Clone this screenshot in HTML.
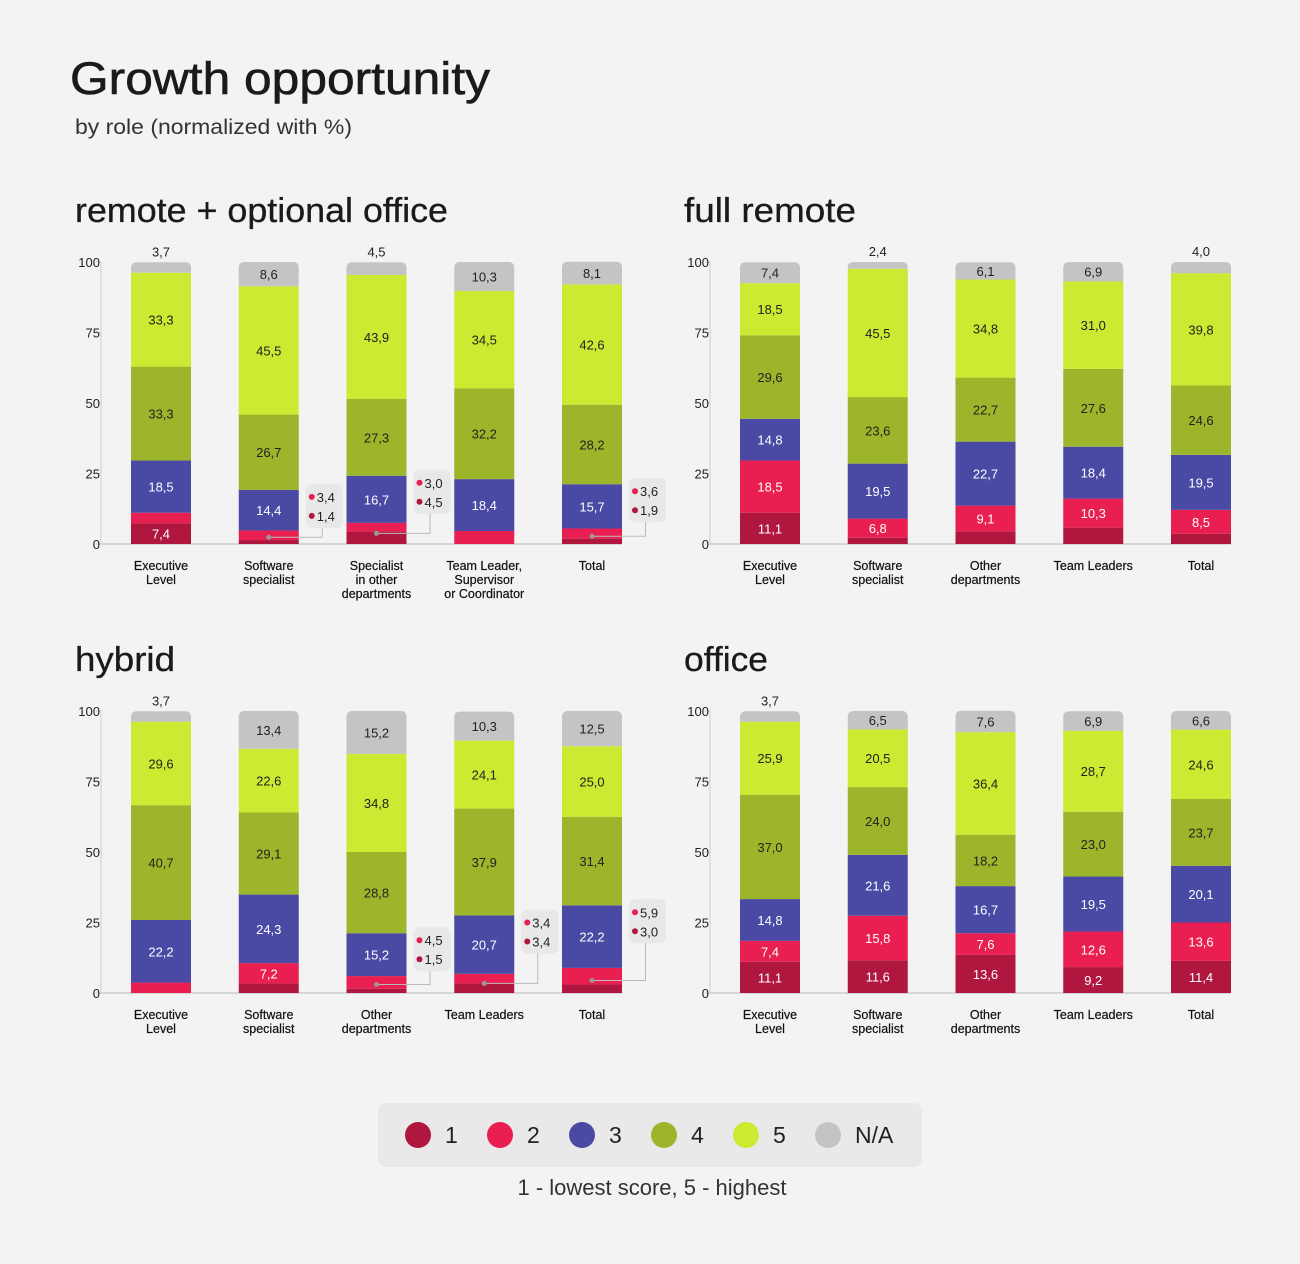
<!DOCTYPE html>
<html><head><meta charset="utf-8"><style>
html,body{margin:0;padding:0;background:#f3f3f3;}
svg{display:block;font-family:"Liberation Sans",sans-serif;}
</style></head><body>
<svg id="svg" width="1300" height="1264" viewBox="0 0 1300 1264">
<rect x="0" y="0" width="1300" height="1264" fill="#f3f3f3"/>
<text x="70" y="94" font-size="45" fill="#1a1a1a" stroke="#1a1a1a" stroke-width="0.6" textLength="420" lengthAdjust="spacingAndGlyphs">Growth opportunity</text>
<text x="75" y="134" font-size="21" fill="#333" textLength="277" lengthAdjust="spacingAndGlyphs">by role (normalized with %)</text>
<g>
<rect x="378" y="1103" width="544" height="64" rx="8" fill="#e9e9e9"/>
</g>
<text x="652" y="1195" font-size="22" fill="#333" text-anchor="middle">1 - lowest score, 5 - highest</text>
</svg>
<script>
const NS="http://www.w3.org/2000/svg";
const svg=document.getElementById('svg');
const colors=["#b0173f","#e81f50","#4a4aa5","#9db52a","#cbea31","#c4c4c4"];
const textCol=["#fff","#fff","#fff","#222","#222","#222"];
const legendLabels=["1","2","3","4","5","N/A"];
const yTicks=[0,25,50,75,100];

const roCats=[["Executive","Level"],["Software","specialist"],["Specialist","in other","departments"],["Team Leader,","Supervisor","or Coordinator"],["Total"]];
const roVals=[[7.4,3.7,18.5,33.3,33.3,3.7],[1.4,3.4,14.4,26.7,45.5,8.6],[4.5,3.0,16.7,27.3,43.9,4.5],[0,4.6,18.4,32.2,34.5,10.3],[1.9,3.6,15.7,28.2,42.6,8.1]];
const roCallouts=[1,2,4];

const frCats=[["Executive","Level"],["Software","specialist"],["Other","departments"],["Team Leaders"],["Total"]];
const frVals=[[11.1,18.5,14.8,29.6,18.5,7.4],[2.2,6.8,19.5,23.6,45.5,2.4],[4.5,9.1,22.7,22.7,34.8,6.1],[5.8,10.3,18.4,27.6,31.0,6.9],[3.6,8.5,19.5,24.6,39.8,4.0]];
const frCallouts=[];

const hyCats=[["Executive","Level"],["Software","specialist"],["Other","departments"],["Team Leaders"],["Total"]];
const hyVals=[[0,3.7,22.2,40.7,29.6,3.7],[3.4,7.2,24.3,29.1,22.6,13.4],[1.5,4.5,15.2,28.8,34.8,15.2],[3.4,3.4,20.7,37.9,24.1,10.3],[3.0,5.9,22.2,31.4,25.0,12.5]];
const hyCallouts=[2,3,4];

const ofCats=[["Executive","Level"],["Software","specialist"],["Other","departments"],["Team Leaders"],["Total"]];
const ofVals=[[11.1,7.4,14.8,37.0,25.9,3.7],[11.6,15.8,21.6,24.0,20.5,6.5],[13.6,7.6,16.7,18.2,36.4,7.6],[9.2,12.6,19.5,23.0,28.7,6.9],[11.4,13.6,20.1,23.7,24.6,6.6]];
const ofCallouts=[];

const panels=[
 {title:"remote + optional office",tl:373,name:"remote-optional-office",cats:roCats,vals:roVals,call:roCallouts,ox:0,oy:0},
 {title:"full remote",tl:172,name:"full-remote",cats:frCats,vals:frVals,call:frCallouts,ox:609,oy:0},
 {title:"hybrid",tl:100,name:"hybrid",cats:hyCats,vals:hyVals,call:hyCallouts,ox:0,oy:449},
 {title:"office",tl:84,name:"office",cats:ofCats,vals:ofVals,call:ofCallouts,ox:609,oy:449}
];
const fmt=v=>v.toFixed(1).replace('.',',');
function el(tag,attrs,parent,txt){const e=document.createElementNS(NS,tag);for(const k in attrs)e.setAttribute(k,attrs[k]);if(txt!==undefined)e.textContent=txt;parent.appendChild(e);return e;}

panels.forEach(p=>{
 const g=el('g',{},svg);
 
 
 const t=el('text',{x:75+p.ox,y:222+p.oy,'font-size':34,fill:'#1a1a1a',stroke:'#1a1a1a','stroke-width':0.3,textLength:p.tl,lengthAdjust:'spacingAndGlyphs'},g,p.title);
 
 
 const y0=544+p.oy, k=2.82;
 const Y=v=>y0-v*k;
 const X=i=>131+p.ox+i*107.75;
 const axis=el('line',{x1:101+p.ox,y1:Y(100),x2:101+p.ox,y2:y0,stroke:'#ccc','stroke-width':1},g);
 
 
 const base=el('line',{x1:101+p.ox,y1:y0,x2:X(4)+60,y2:y0,stroke:'#ccc','stroke-width':1.5},g);
 
 
 yTicks.forEach(v=>{
  el('line',{x1:96+p.ox,y1:Y(v),x2:101+p.ox,y2:Y(v),stroke:'#ccc'},g);
  const tl=el('text',{x:100+p.ox,y:Y(v)+5,'font-size':13,fill:'#222','text-anchor':'end'},g,String(v));
  
  
 });
 p.vals.forEach((vals,i)=>{
  const x=X(i), w=60, cx=x+30;
  let cum=0;
  const bg=el('g',{},g);
  
  
  vals.forEach((v,s)=>{
   if(v<=0){return;}
   const top=Y(cum+v), bot=Y(cum);
   let r;
   if(s===5){
    const h=bot-top, rr=Math.min(6,h);
    r=el('path',{d:`M${x},${bot} L${x},${top+rr} Q${x},${top} ${x+rr},${top} L${x+w-rr},${top} Q${x+w},${top} ${x+w},${top+rr} L${x+w},${bot} Z`,fill:colors[s]},bg);
   } else {
    r=el('rect',{x:x,y:top,width:w,height:bot-top,fill:colors[s]},bg);
   }
   
   
   let lab=null;
   if(s===5){
    if(v<5.5) lab=el('text',{x:cx,y:top-6,'font-size':13,fill:'#222','text-anchor':'middle'},bg,fmt(v));
    else lab=el('text',{x:cx,y:(top+bot)/2+5,'font-size':13,fill:'#222','text-anchor':'middle'},bg,fmt(v));
   } else if(v>=6){
    lab=el('text',{x:cx,y:(top+bot)/2+5,'font-size':13,fill:textCol[s],'text-anchor':'middle'},bg,fmt(v));
   }
   if(lab){}
   cum+=v;
  });
  const cat=p.cats[i];
  cat.forEach((line,j)=>{
   const ct=el('text',{x:cx,y:y0+26+j*14,'font-size':12.5,fill:'#111','text-anchor':'middle',stroke:'#111','stroke-width':0.2},g,line);
   
   
  });
  if(p.call.indexOf(i)>=0){
   const cg=el('g',{},g);
   
   
   const dy=Y((vals[0]+vals[1])/2);
   const bx=x+w+7, btop=Y(vals[0]+vals[1]+vals[2])-6, bw=37, bh=44;
   const lx=bx+bw/2-2;
   el('path',{d:`M${cx},${dy} L${lx},${dy} L${lx},${btop+bh}`,fill:'none',stroke:'#bbb','stroke-width':1},cg);
   el('circle',{cx:cx,cy:dy,r:2.5,fill:'#999'},cg);
   el('rect',{x:bx,y:btop,width:bw,height:bh,rx:6,fill:'#e8e8e8'},cg);
   el('circle',{cx:bx+6,cy:btop+13,r:3,fill:colors[1]},cg);
   el('text',{x:bx+11,y:btop+18,'font-size':13,fill:'#222'},cg,fmt(vals[1]));
   el('circle',{cx:bx+6,cy:btop+32,r:3,fill:colors[0]},cg);
   el('text',{x:bx+11,y:btop+37,'font-size':13,fill:'#222'},cg,fmt(vals[0]));
  }
 });
});
legendLabels.forEach((l,i)=>{
 const lg=el('g',{},svg);
 
 
 const x=418+i*82;
 el('circle',{cx:x,cy:1135,r:13,fill:colors[i]},lg);
 el('text',{x:x+27,y:1143,'font-size':23,fill:'#222'},lg,l);
});
</script>
</body></html>
